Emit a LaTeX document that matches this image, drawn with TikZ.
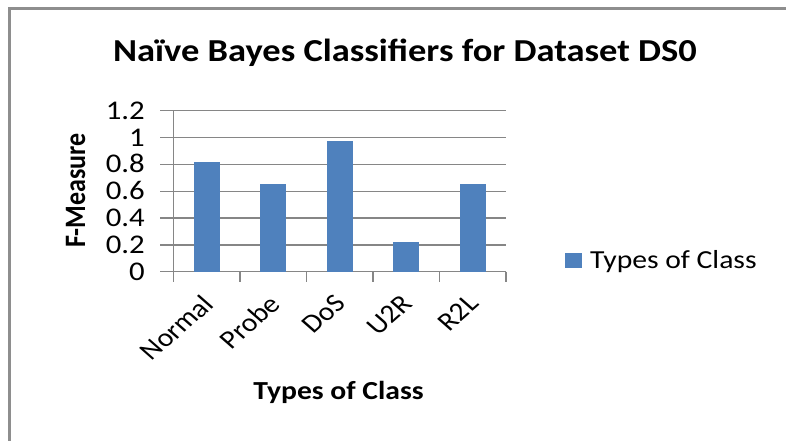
\documentclass[tikz,border=0pt]{standalone}
\usepackage{fontspec}
\setmainfont{Carlito}
\definecolor{barblue}{HTML}{4F81BD}
\definecolor{gridgray}{HTML}{868686}
\definecolor{framegray}{HTML}{8E8E8E}
\tikzset{
  titletext/.style={font=\fontsize{32}{35}\selectfont\bfseries, inner sep=0pt},
  axistitle/.style={font=\fontsize{26}{30}\selectfont\bfseries, inner sep=0pt},
  ticklabel/.style={font=\fontsize{27}{30}\selectfont, inner sep=0pt, anchor=base east},
  catlabel/.style={font=\fontsize{26}{30}\selectfont, inner sep=0pt, anchor=north east, rotate=45},
  legendtext/.style={font=\fontsize{26}{30}\selectfont, inner sep=0pt, anchor=base west},
  gridline/.style={draw=gridgray, line width=1.3pt},
  bar/.style={fill=barblue, draw=none},
}
\begin{document}
\begin{tikzpicture}[x={(0.877193pt,0pt)}, y={(0pt,-1pt)}]
\begin{scope}[xscale=1.14, transform shape]
\useasboundingbox (0,0) rectangle (786,441);
% frame
\coordinate (fbl) at (9.5,445);
\coordinate (ftl) at (9.5,8.3);
\coordinate (ftr) at (786,8.3);
\draw[framegray, line width=2.6pt] (fbl) -- (ftl) -- (ftr);
% title
\node[titletext, anchor=base] (title) at (405,62) {Naïve Bayes Classifiers for Dataset DS0};
% gridlines
\foreach \v/\lab [count=\i] in {0/0,0.2/0.2,0.4/0.4,0.6/0.6,0.8/0.8,1/1,1.2/1.2}{
  \coordinate (gl\i) at (160,{271.7-\v*134.2});
  \coordinate (gr\i) at (506,{271.7-\v*134.2});
  \draw[gridline] (gl\i) -- (gr\i);
  \node[ticklabel] (t\i) at (145,{271.7-\v*134.2+8.6}) {\lab};
}
% vertical axis
\coordinate (axtop) at (173.3,110.7);
\coordinate (axbot) at (173.3,281.7);
\draw[gridline] (axtop) -- (axbot);
% category ticks
\foreach \k in {1,...,5}{
  \coordinate (ct\k) at ({173.3+66.54*\k},271.7);
  \coordinate (cb\k) at ({173.3+66.54*\k},281.7);
  \draw[gridline] (ct\k) -- (cb\k);
}
% bars
\foreach \v/\name [count=\k] in {0.815/Normal,0.651/Probe,0.976/DoS,0.224/U2R,0.651/R2L}{
  \path[bar] ({173.3+66.54*(\k-0.5)-13},271.7) rectangle ({173.3+66.54*(\k-0.5)+13},{271.7-\v*134.2});
  \node[catlabel] (c\k) at ({173.3+66.54*(\k-0.5)-6},293) {\name};
}
% axis titles
\node[axistitle, anchor=base, rotate=90] (ytitle) at (85,190.5) {F-Measure};
\node[axistitle, anchor=base] (xtitle) at (338.5,399.5) {Types of Class};
% legend
\path[bar] (565,253) rectangle (582,268);
\node[legendtext] (leg) at (590,269) {Types of Class};
\end{scope}
\end{tikzpicture}
\end{document}
